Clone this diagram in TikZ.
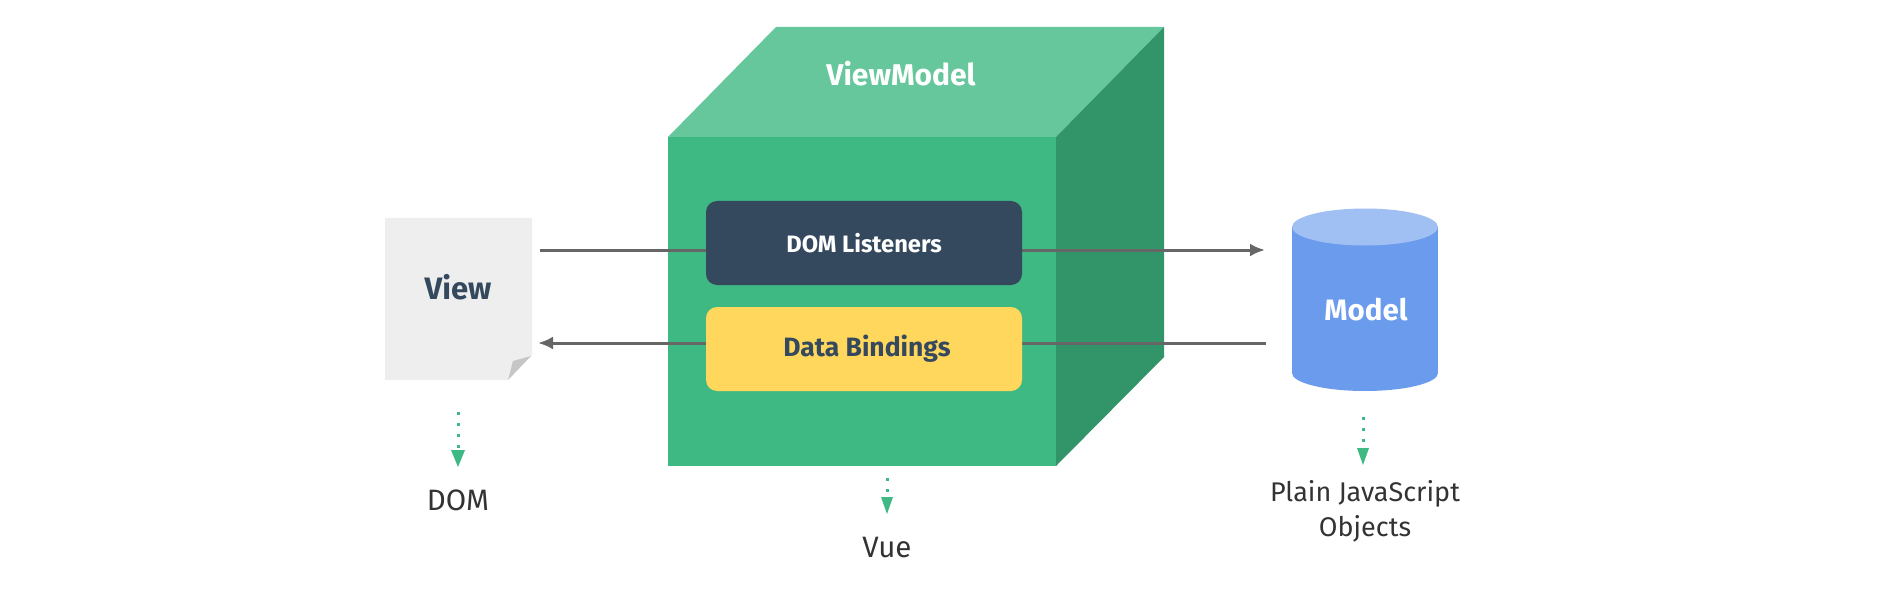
\documentclass[tikz,border=0pt]{standalone}
\usepackage{fontspec}
\setmainfont{Fira Sans}
\usetikzlibrary{arrows.meta}
\definecolor{vgreen}{HTML}{3FB983}
\definecolor{vtop}{HTML}{65C79B}
\definecolor{vside}{HTML}{329469}
\definecolor{vdark}{HTML}{35495E}
\definecolor{vyellow}{HTML}{FFD75C}
\definecolor{vblue}{HTML}{6B9BEC}
\definecolor{vbluetop}{HTML}{A0BFF2}
\definecolor{vpaper}{HTML}{EEEEEE}
\definecolor{vfold}{HTML}{C6C6C6}
\definecolor{vline}{HTML}{666666}
\definecolor{vtext}{HTML}{333333}
\tikzset{
  flowline/.style={draw=vline,line width=3pt,-{Latex[length=15pt,width=13pt]}},
  dotline/.style={draw=vgreen,line width=3pt,dash pattern=on 3pt off 8pt},
  dothead/.style={fill=vgreen},
  innerbox/.style={rounded corners=11pt,minimum width=316pt,minimum height=84pt,inner sep=0pt},
  lbl/.style={text=vtext,align=center,inner sep=0pt},
  boldlbl/.style={inner sep=0pt}
}
\begin{document}
\begin{tikzpicture}[x=1pt,y=-1pt]
\useasboundingbox (0,0) rectangle (1892,604);
% cube
\fill[vtop] (668,137) -- (776,27) -- (1164,27) -- (1056,137) -- cycle;
\fill[vside] (1056,137) -- (1164,27) -- (1164,357) -- (1056,466) -- cycle;
\fill[vgreen] (668,137) rectangle (1056,466);
\node[boldlbl,text=white,font=\fontsize{30}{36}\selectfont\bfseries] (vm) at (901,74) {ViewModel};
% named ends of the connectors
\coordinate (viewOut) at (540,250);
\coordinate (modelIn) at (1265,250);
\coordinate (modelOut) at (1266,343);
\coordinate (viewIn) at (538,343);
\draw[flowline] (viewOut) -- (modelIn);
\draw[flowline] (modelOut) -- (viewIn);
% inner boxes
\node[innerbox,fill=vdark,text=white,font=\fontsize{23.7}{28}\selectfont\bfseries] (listeners) at (864,243) {DOM Listeners};
\node[innerbox,fill=vyellow] (bindings) at (864,349) {};
\node[boldlbl,text=vdark,font=\fontsize{26.5}{32}\selectfont\bfseries] (bindingsText) at (867,349) {Data Bindings};
% view page
\fill[vpaper] (385,218) -- (532,218) -- (532,355) -- (508,380) -- (385,380) -- cycle;
\fill[vfold] (508,380) -- (513,361) -- (531,356) -- cycle;
\node[boldlbl,text=vdark,font=\fontsize{31}{37}\selectfont\bfseries] (view) at (458,287) {View};
% cylinder
\fill[vblue] (1292,227) rectangle (1438,373);
\fill[vblue] (1365,373) ellipse (73 and 18);
\fill[vbluetop] (1365,227) ellipse (73 and 18.5);
\node[boldlbl,text=white,font=\fontsize{29.5}{35}\selectfont\bfseries] (model) at (1366,310) {Model};
% dotted pointers
\coordinate (d1a) at (458,412); \coordinate (d1b) at (458,450); \coordinate (d1c) at (458,467);
\coordinate (d2a) at (887,478); \coordinate (d2b) at (887,497); \coordinate (d2c) at (887,514);
\coordinate (d3a) at (1363,417); \coordinate (d3b) at (1363,448); \coordinate (d3c) at (1363,465);
\draw[dotline] (d1a) -- (d1b);
\fill[dothead] (451,450) -- (465,450) -- (d1c) -- cycle;
\draw[dotline] (d2a) -- (d2b);
\fill[dothead] (881,497) -- (893,497) -- (d2c) -- cycle;
\draw[dotline] (d3a) -- (d3b);
\fill[dothead] (1357,448) -- (1369,448) -- (d3c) -- cycle;
% labels
\node[lbl,font=\fontsize{29.5}{35}\selectfont] (dom) at (458,500) {DOM};
\node[lbl,font=\fontsize{29.5}{35}\selectfont] (vue) at (887,548) {Vue};
\node[lbl,font=\fontsize{27}{35}\selectfont] (pjo) at (1365,511) {Plain JavaScript\\Objects};
\end{tikzpicture}
\end{document}
